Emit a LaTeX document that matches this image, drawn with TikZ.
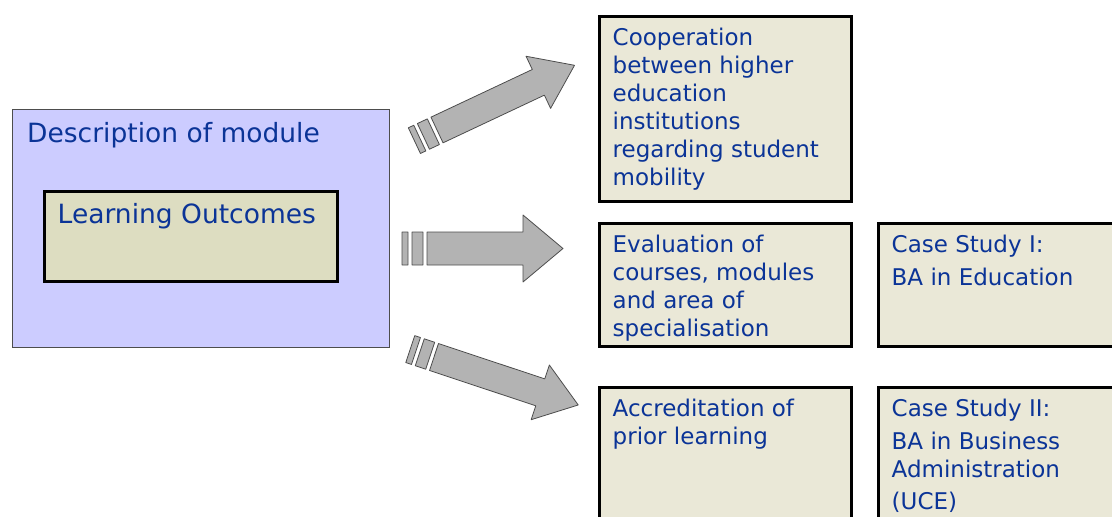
\documentclass[tikz,border=0pt]{standalone}
\usepackage{fontspec}
\setmainfont{DejaVu Sans}
\usetikzlibrary{positioning}
\usepackage{xcolor}
\definecolor{lavender}{HTML}{CCCCFF}
\definecolor{khaki}{HTML}{DDDDC1}
\definecolor{parchment}{HTML}{EAE8D7}
\definecolor{inkblue}{HTML}{0B3497}
\definecolor{arrowgrey}{HTML}{B3B3B3}
\definecolor{arrowedge}{HTML}{4D4D4D}

\begin{document}
\begin{tikzpicture}[
  x=1pt, y=-1pt,
  module/.style={rectangle, draw=arrowedge, fill=lavender, line width=1pt,
    minimum width=377pt, minimum height=238.5pt, inner sep=0pt},
  outcome/.style={rectangle, draw=black, fill=khaki, line width=3pt,
    minimum width=293pt, minimum height=90pt, inner sep=0pt},
  topic/.style={rectangle, draw=black, fill=parchment, line width=3pt,
    minimum width=252pt, inner sep=0pt},
  title/.style={anchor=north west, inner sep=0pt, align=left, text=inkblue,
    font=\fontsize{26.5}{32}\selectfont, xshift=15pt, yshift=-11pt},
  boxtext/.style={anchor=north west, inner sep=0pt, align=left, text=inkblue,
    font=\fontsize{23}{28}\selectfont, xshift=14.5pt, yshift=-11pt},
  pics/stripearrow/.style={code={
    \filldraw[draw=arrowedge, fill=arrowgrey, line width=0.8pt, line join=round]
      (-25,-16.5) rectangle (-19,16.5)
      (-15,-16.5) rectangle (-4,16.5)
      (0,-16.5) -- (#1-40,-16.5) -- (#1-40,-33.5) -- (#1,0)
      -- (#1-40,33.5) -- (#1-40,16.5) -- (0,16.5) -- cycle;
  }},
]
\useasboundingbox (0,0) rectangle (1112,517);
\clip (0,0) rectangle (1112,517);

% === Left: module description ===
\node[module, anchor=north west,
  label={[title]north west:\strut Description of module}] (module) at (12,108.5) {};
\node[outcome, anchor=north west,
  label={[title]north west:\strut Learning Outcomes}] (outcomes)
  at ([shift={(30.5,81.5)}]module.north west) {};

% === Middle: block arrows ===
\pic[rotate=25.2, yscale=0.86] at (437,130) {stripearrow=152};
\pic at (427,248.5) {stripearrow=136};
\pic[rotate=-18.4, yscale=0.86] at (434,357) {stripearrow=152};

% === Right: topics and case studies ===
\node[topic, minimum height=185pt, anchor=north west,
  label={[boxtext]north west:{\strut Cooperation\\between higher\\education\\institutions\\regarding student\\mobility}}] (coop) at (598,15) {};
\node[topic, minimum height=123pt, below=19pt of coop,
  label={[boxtext]north west:{\strut Evaluation of\\courses, modules\\and area of\\specialisation}}] (evaluation) {};
\node[topic, minimum height=123pt, right=24pt of evaluation,
  label={[boxtext]north west:{\strut Case Study I:\\[5pt]BA in Education}}] (caseone) {};
\node[topic, minimum height=185pt, below=38pt of evaluation,
  label={[boxtext]north west:{\strut Accreditation of\\prior learning}}] (prior) {};
\node[topic, minimum height=185pt, right=24pt of prior,
  label={[boxtext]north west:{\strut Case Study II:\\[5pt]BA in Business\\Administration\\[4pt](UCE)}}] (casetwo) {};
\end{tikzpicture}
\end{document}
